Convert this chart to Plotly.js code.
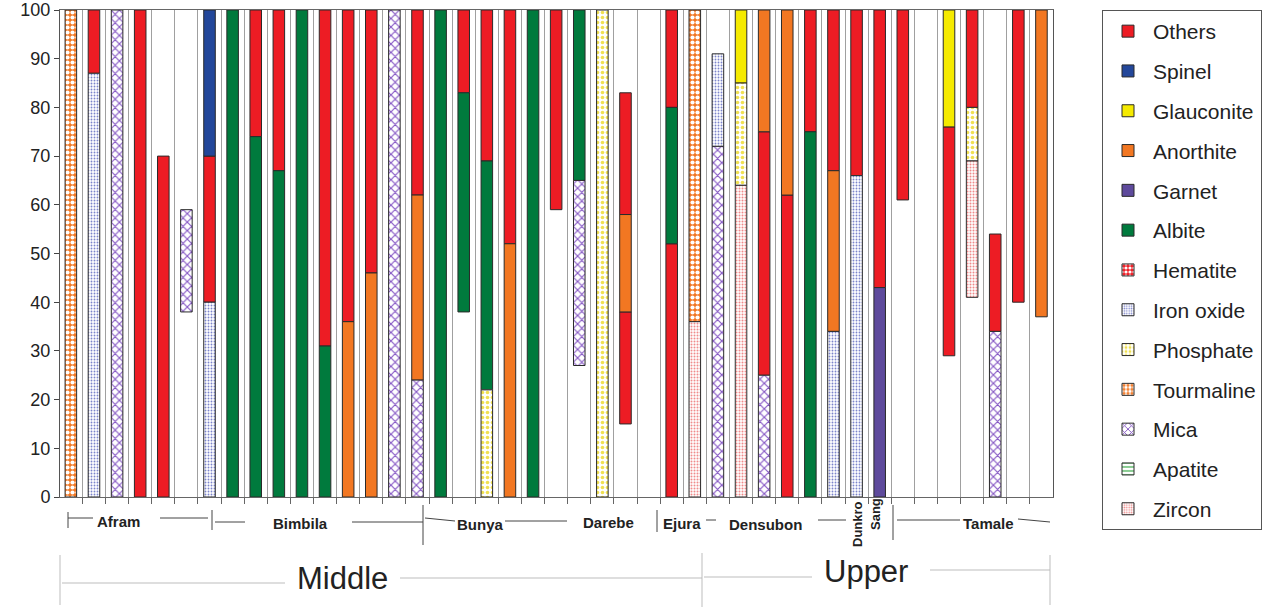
<!DOCTYPE html>
<html>
<head>
<meta charset="utf-8">
<script src="https://cdn.plot.ly/plotly-3.0.1.min.js"></script>
<style>html,body{margin:0;padding:0;background:#fff;}#chart{width:1280px;height:607px;}</style>
</head>
<body>
<div id="chart"></div>
<script>
// ---- DATA: each segment = [sampleIndex, from(%), to(%)] ----
const nSamples = 43;
const others = [[1,87,100],[3,0,100],[4,0,70],[6,40,70],[8,74,100],[9,67,100],[11,31,100],[12,36,100],[13,46,100],[15,62,100],[17,83,100],[18,69,100],[19,52,100],[21,59,100],[24,15,38],[24,58,83],[26,0,52],[26,80,100],[30,25,75],[31,0,62],[32,75,100],[33,67,100],[34,66,100],[35,43,100],[36,61,100],[38,29,76],[39,80,100],[40,34,54],[41,40,100]];
const spinel = [[6,70,100]];
const glauconite = [[29,85,100],[38,76,100]];
const anorthite = [[12,0,36],[13,0,46],[15,24,62],[19,0,52],[24,38,58],[30,75,100],[31,62,100],[33,34,67],[42,37,100]];
const garnet = [[35,0,43]];
const albite = [[7,0,100],[8,0,74],[9,0,67],[10,0,100],[11,0,31],[16,0,100],[17,38,83],[18,22,69],[20,0,100],[22,65,100],[26,52,80],[32,0,75]];
const hematite = [];
const ironOxide = [[1,0,87],[6,0,40],[28,72,91],[33,0,34],[34,0,66]];
const phosphate = [[18,0,22],[23,0,100],[29,64,85],[39,69,80]];
const tourmaline = [[0,0,100],[27,36,100]];
const mica = [[2,0,100],[5,38,59],[14,0,100],[15,0,24],[22,27,65],[28,0,72],[30,0,25],[40,0,34]];
const apatite = [];
const zircon = [[27,0,36],[29,0,64],[39,41,69]];

const mineralNames = ["Others","Spinel","Glauconite","Anorthite","Garnet","Albite","Hematite","Iron oxide","Phosphate","Tourmaline","Mica","Apatite","Zircon"];
const mineralData = [others,spinel,glauconite,anorthite,garnet,albite,hematite,ironOxide,phosphate,tourmaline,mica,apatite,zircon];
const formations = ["Afram","Bimbila","Bunya","Darebe","Ejura","Densubon","Tamale"];
const formationDunkro = ["Dunkro","Sang"];
const members = ["Middle","Upper"];
const yTicks = [0,10,20,30,40,50,60,70,80,90,100];

// ---- STYLES ----
const styles = {
  "Others":     {color:"#ED1C24"},
  "Spinel":     {color:"#23479A"},
  "Glauconite": {color:"#F5EA00"},
  "Anorthite":  {color:"#F27722"},
  "Garnet":     {color:"#5E4A9C"},
  "Albite":     {color:"#007A3D"},
  "Hematite":   {color:"#ED1C24", pattern:{shape:".", bgcolor:"#ED1C24", fgcolor:"#ffffff", size:5, solidity:0.5}},
  "Iron oxide": {color:"#ffffff", pattern:{shape:".", bgcolor:"#ffffff", fgcolor:"#7C84CC", size:3, solidity:0.3}},
  "Phosphate":  {color:"#ffffff", pattern:{shape:".", bgcolor:"#ffffff", fgcolor:"#F0E050", size:5, solidity:0.4}},
  "Tourmaline": {color:"#F27722", pattern:{shape:".", bgcolor:"#F27722", fgcolor:"#ffffff", size:5, solidity:0.55}},
  "Mica":       {color:"#ffffff", pattern:{shape:"x", bgcolor:"#ffffff", fgcolor:"#8556C4", size:6, solidity:0.35}},
  "Apatite":    {color:"#ffffff", pattern:{shape:"-", bgcolor:"#ffffff", fgcolor:"#3BAA4A", size:5, solidity:0.3}},
  "Zircon":     {color:"#ffffff", pattern:{shape:".", bgcolor:"#ffffff", fgcolor:"#F08A8A", size:3, solidity:0.35}}
};

const traces = mineralNames.map((name, k) => {
  const segs = mineralData[k];
  const st = styles[name];
  const marker = {color: st.color, line:{color:"#2a2a2a", width:1}};
  if (st.pattern) marker.pattern = Object.assign({fillmode:"replace"}, st.pattern);
  // minerals with no occurrence still need a legend entry: one empty (null) point
  const list = segs.length ? segs : [[null,null,null]];
  return {
    type:"bar", name:name, legendgroup:name,
    x: list.map(s => s[0]),
    base: list.map(s => s[1]),
    y: list.map(s => (s[2] === null ? null : s[2] - s[1])),
    width: 0.5,
    marker: marker,
    hoverinfo:"skip"
  };
});

// ---- LAYOUT helpers (pixel -> paper) ----
const L=60, R=1053, T=10, B=497;
const PX = p => (p - L) / (R - L);
const PY = p => (B - p) / (B - T);

const boundaries = [];
for (let i = 0; i < nSamples - 1; i++) boundaries.push(i + 0.5);

const fam = "Arial, Liberation Sans, sans-serif";
const fmFont = {family:fam, size:15, color:"#222"};
const fmPos = [[118,521],[300,523],[480,524],[608,522],[682,523],[765,524],[988,523]];
const annotations = formations.map((t,i) => ({
  text:"<b>"+t+"</b>", xref:"paper", yref:"paper", x:PX(fmPos[i][0]), y:PY(fmPos[i][1]),
  showarrow:false, font:fmFont, xanchor:"center", yanchor:"middle"
}));
const dkPos = [[857,524],[875,514]];
formationDunkro.forEach((t,i) => annotations.push({
  text:"<b>"+t+"</b>", xref:"paper", yref:"paper", x:PX(dkPos[i][0]), y:PY(dkPos[i][1]),
  textangle:-90, showarrow:false, xanchor:"center", yanchor:"middle",
  font:{family:fam, size:13, color:"#222"}
}));
const memPos = [[342,578],[866,571]];
members.forEach((t,i) => annotations.push({
  text:t, xref:"paper", yref:"paper", x:PX(memPos[i][0]), y:PY(memPos[i][1]),
  showarrow:false, xanchor:"center", yanchor:"middle",
  font:{family:fam, size:31, color:"#222"}
}));

const dark = "#444", light = "#bdbdbd";
const lines = [
  [68,518,93,518,dark],[68,512,68,528,dark],[160,518,208,518,dark],[212,510,212,530,dark],
  [215,522,245,522,dark],[352,522,423,522,dark],[423,505,423,545,dark],
  [425,518,455,521,dark],[505,521,567,521,dark],[657,510,657,532,dark],
  [706,520,716,520,dark],[818,520,846,520,dark],[893,505,893,540,dark],
  [897,520,960,520,dark],[1018,519,1050,522,dark],
  [62,583,285,583,light],[400,578,702,578,light],[702,553,702,607,light],
  [704,577,812,577,light],[930,570,1050,570,light],[60,555,60,605,light],[1050,555,1050,605,light]
];
const shapes = lines.map(l => ({
  type:"line", xref:"paper", yref:"paper",
  x0:PX(l[0]), y0:PY(l[1]), x1:PX(l[2]), y1:PY(l[3]),
  line:{color:l[4], width:1}
}));

const layout = {
  width:1280, height:607,
  margin:{l:L, r:1280-R, t:T, b:607-B, pad:0},
  paper_bgcolor:"#ffffff", plot_bgcolor:"#ffffff",
  barmode:"overlay",
  showlegend:true,
  font:{family:fam, color:"#222"},
  xaxis:{
    range:[-0.47, nSamples - 0.5], showticklabels:false,
    tickmode:"array", tickvals:boundaries, ticks:"outside", ticklen:6, tickcolor:"#666",
    showgrid:true, gridcolor:"#a0a0a0", gridwidth:1, zeroline:false,
    showline:true, linecolor:"#666", mirror:true, fixedrange:true
  },
  yaxis:{
    range:[0,100], tickmode:"array", tickvals:yTicks, ticks:"outside", ticklen:5, tickcolor:"#444",
    tickfont:{size:18, color:"#222"}, showgrid:false, zeroline:false,
    showline:true, linecolor:"#555", mirror:true, fixedrange:true
  },
  legend:{
    x:PX(1102), y:1, xanchor:"left", yanchor:"top",
    bordercolor:"#555", borderwidth:1, bgcolor:"#ffffff",
    font:{size:21, color:"#222"}, tracegroupgap:9.5, traceorder:"grouped",
    itemwidth:40, maxheight:590
  },
  annotations:annotations,
  shapes:shapes
};

Plotly.newPlot("chart", traces, layout, {displayModeBar:false, staticPlot:true});
</script>
</body>
</html>
